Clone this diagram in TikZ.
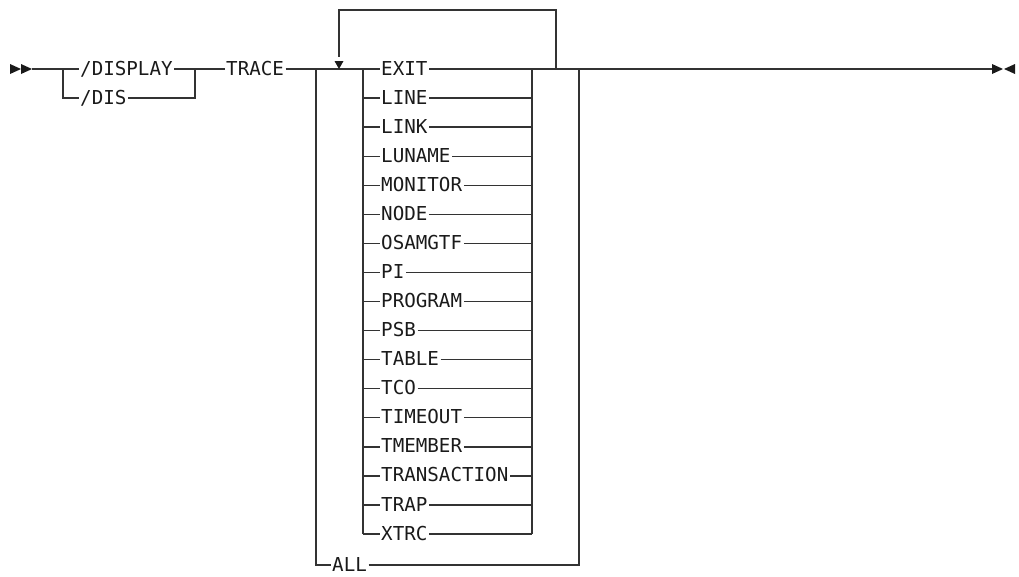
\documentclass[tikz,border=0pt]{standalone}
\usepackage{fontspec}
\setmonofont{DejaVu Sans Mono}
\usetikzlibrary{calc}
\definecolor{ink}{HTML}{1A1A1A}
\definecolor{railc}{HTML}{333333}
\def\rowh{29.07}
\tikzset{
  kw/.style={text=ink,font=\ttfamily\fontsize{19.2}{22}\selectfont,anchor=west,
    inner xsep=1.5pt,inner ysep=0pt,text height=12pt,text depth=0pt},
  rail/.style={railc,line width=1.3pt},
}
\newcommand{\tipr}[1]{\fill[ink] #1 -- ++(0,-5) -- ++(11,5) -- ++(-11,5) -- cycle;}
\newcommand{\tipl}[1]{\fill[ink] #1 -- ++(0,-5) -- ++(-11,5) -- ++(11,5) -- cycle;}
\newcommand{\tipd}[1]{\fill[ink] #1 -- ++(-4.5,-8) -- ++(9,0) -- cycle;}

\begin{document}
\begin{tikzpicture}[x=1pt,y=-1pt]
\useasboundingbox (0,0) rectangle (1019,576);

% ---------------------------------------------------------------- start / end marks
\tipr{(10,69)}
\tipr{(21,69)}
\tipr{(992,69)}
\tipl{(1015,69)}
\coordinate (s0) at (32,69);
\coordinate (fin) at (992,69);

% ---------------------------------------------------------------- command
\node[kw] (disp) at (78.5,69) {/DISPLAY};
\node[kw] (dis) at (78.5,98) {/DIS};
\node[kw] (trace) at (224.5,69) {TRACE};
\coordinate (b1) at (63,69);
\coordinate (j1) at (195,69);
\draw[rail] (s0) -- (disp.west);
\draw[rail] (b1) |- (dis.west);
\draw[rail] (disp.east) -- (trace.west);
\draw[rail] (dis.east) -| (j1);

% ---------------------------------------------------------------- repeatable keywords
\coordinate (lc) at (363,69);
\coordinate (rc) at (532,69);
\foreach \w [count=\i from 0] in {EXIT,LINE,LINK,LUNAME,MONITOR,NODE,OSAMGTF,PI,
    PROGRAM,PSB,TABLE,TCO,TIMEOUT,TMEMBER,TRANSACTION,TRAP,XTRC}
  {\node[kw] (o\i) at (379.5,69+\rowh*\i) {\w};
   \draw[rail] (lc |- o\i.west) -- (o\i.west);
   \draw[rail] (o\i.east) -- (rc |- o\i.east);}
\draw[rail] (lc) -- (lc |- o16.west);
\draw[rail] (rc) -- (rc |- o16.east);
\draw[rail] (trace.east) -- (o0.west);

% ---------------------------------------------------------------- repeat loop
\coordinate (lp) at (339,69);
\draw[rail] (556,69) |- (339,10) -- (339,57);
\tipd{(lp)}

% ---------------------------------------------------------------- ALL
\coordinate (ac) at (316,69);
\coordinate (ar) at (579,69);
\node[kw] (all) at (330.5,565) {ALL};
\draw[rail] (ac) |- (all.west);
\draw[rail] (all.east) -| (ar);
\draw[rail] (o0.east) -- (fin);

\end{tikzpicture}
\end{document}
